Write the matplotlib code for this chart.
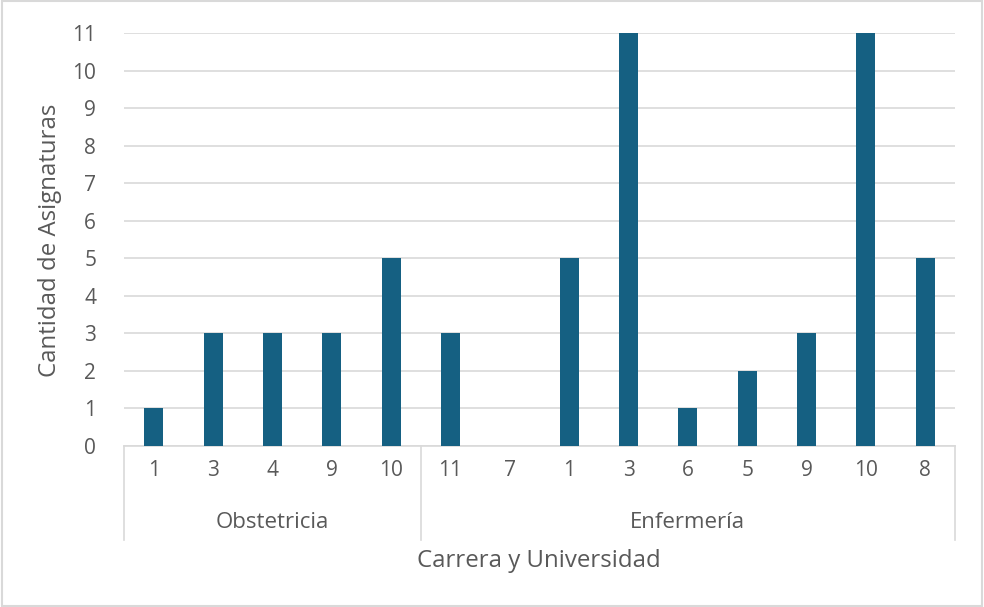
import numpy as np
import matplotlib.pyplot as plt
import matplotlib.transforms as mtransforms

# datos
grupos = ["Obstetricia", "Enfermería"]
etiquetas_obs = ["1", "3", "4", "9", "10"]
valores_obs = [1, 3, 3, 3, 5]
etiquetas_enf = ["11", "7", "1", "3", "6", "5", "9", "10", "8"]
valores_enf = [3, 0, 5, 11, 1, 2, 3, 11, 5]

plt.rcParams['font.family'] = ['Open Sans', 'DejaVu Sans']
gris = '#595959'
linea = '#d9d9d9'

etiquetas = etiquetas_obs + etiquetas_enf
valores = valores_obs + valores_enf
x = np.arange(len(valores))

fig = plt.figure(figsize=(9.84, 6.07), dpi=100)
ax = fig.add_axes([124/984, 1 - 446/607, (955 - 124)/984, (446 - 33)/607])

ax.bar(x, valores, width=0.32, color='#156082', zorder=3)

ax.set_xlim(-0.5, len(valores) - 0.5)
ax.set_ylim(0, 11)
ax.set_yticks(range(0, 12))
ax.yaxis.grid(True, color=linea, linewidth=1.2, zorder=0)
ax.tick_params(axis='y', length=0, labelsize=15, labelcolor=gris, pad=20)
ax.set_xticks(x)
ax.set_xticklabels(etiquetas)
ax.tick_params(axis='x', length=0, labelsize=15, labelcolor=gris, pad=10)

for s in ['top', 'right', 'left']:
    ax.spines[s].set_visible(False)
ax.spines['bottom'].set_color(linea)
ax.spines['bottom'].set_linewidth(1.2)

# eje de categorias agrupado
trans = mtransforms.blended_transform_factory(ax.transData, ax.transAxes)
bajo = -(540 - 446) / 413
n_obs = len(valores_obs)
for xs in [-0.5, n_obs - 0.5, len(valores) - 0.5]:
    ax.plot([xs, xs], [0, bajo], transform=trans, color=linea, linewidth=1.2, clip_on=False)

centros = [(n_obs - 1) / 2, n_obs + (len(valores_enf) - 1) / 2]
y_grupo = -(522 - 446) / 413
for c, g in zip(centros, grupos):
    ax.text(c, y_grupo, g, transform=trans, ha='center', va='center', fontsize=16, color=gris)

fig.text(539/984, 1 - 561/607, "Carrera y Universidad", ha='center', va='center', fontsize=17.3, color=gris)
fig.text(50/984, 1 - 240/607, "Cantidad de Asignaturas", ha='center', va='center', rotation=90, fontsize=17.3, color=gris)

# borde de la figura
fig.patches.append(plt.Rectangle((0.002, 0.002), 0.996, 0.996, transform=fig.transFigure,
                                 fill=False, edgecolor=linea, linewidth=1.5))

fig.savefig('out.png', dpi=100)
